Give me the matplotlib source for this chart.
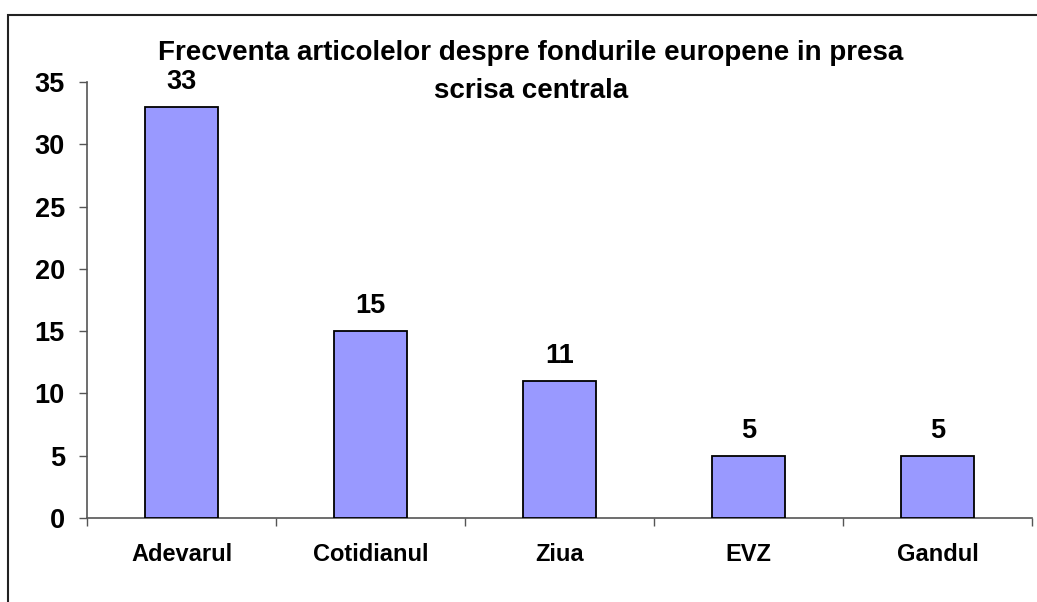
import matplotlib.pyplot as plt
from matplotlib.patches import Rectangle
import numpy as np

# date
ziare = ['Adevarul', 'Cotidianul', 'Ziua', 'EVZ', 'Gandul']
articole = [33, 15, 11, 5, 5]
titlu = ['Frecventa articolelor despre fondurile europene in presa', 'scrisa centrala']

plt.rcParams['font.family'] = ['Liberation Sans', 'DejaVu Sans']
plt.rcParams['font.weight'] = 'bold'

W, H = 1037, 602
fig = plt.figure(figsize=(W / 100, H / 100), dpi=100)

# chenarul graficului (stanga + sus)
fig.patches.append(Rectangle((8 / W, -0.1), 1.2, 1.1 - 15 / H, transform=fig.transFigure,
                             fill=False, edgecolor='#222222', linewidth=1.5))

ax = fig.add_axes([87 / W, (H - 518) / H, (1032 - 87) / W, (518 - 82) / H])

x = np.arange(len(ziare))
bare = ax.bar(x, articole, width=0.39, color='#9999FF', edgecolor='black', linewidth=1.3, zorder=3)

for b, v in zip(bare, articole):
    ax.annotate(str(v), (b.get_x() + b.get_width() / 2, v), xytext=(0, 13),
                textcoords='offset points', ha='center', va='baseline',
                fontsize=19.5, fontweight='bold')

ax.set_xlim(-0.5, len(ziare) - 0.5)
ax.set_ylim(0, 35)
ax.set_yticks(range(0, 36, 5))
ax.tick_params(axis='y', labelsize=19.5, length=6, width=1, color='#555555', pad=10)

# ticks pe x la granitele categoriilor, etichete centrate
ax.set_xticks(np.arange(-0.5, len(ziare), 1.0))
ax.set_xticklabels([])
ax.set_xticks(x, minor=True)
ax.set_xticklabels(ziare, minor=True, fontsize=17, fontweight='bold')
ax.tick_params(axis='x', which='major', length=6, width=1, color='#555555')
ax.tick_params(axis='x', which='minor', length=0, pad=18)

for s in ['top', 'right']:
    ax.spines[s].set_visible(False)
for s in ['left', 'bottom']:
    ax.spines[s].set_color('#555555')
    ax.spines[s].set_linewidth(1.2)

# titlul pe doua randuri
fig.text(531 / W, 1 - 60 / H, titlu[0], ha='center', va='baseline', fontsize=20, fontweight='bold')
fig.text(531 / W, 1 - 98 / H, titlu[1], ha='center', va='baseline', fontsize=20, fontweight='bold')

fig.savefig('out.png', dpi=100)
